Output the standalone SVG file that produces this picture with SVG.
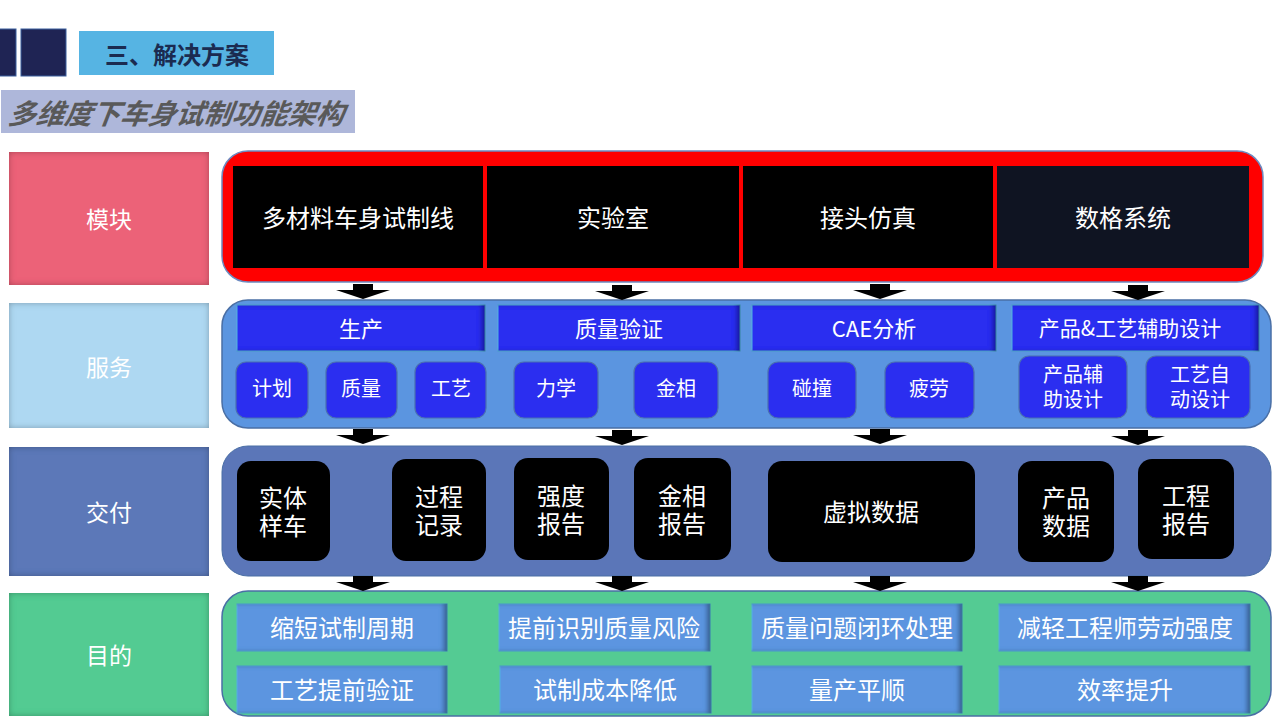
<svg xmlns="http://www.w3.org/2000/svg" width="1280" height="720" viewBox="0 0 1280 720">
<style>
text{font-family:"Noto Sans CJK SC","Microsoft YaHei",sans-serif;fill:#fff;text-anchor:middle;dominant-baseline:central}
.lbl{font-size:23px}
.mod{font-size:24px}
.hdr{font-size:22px}
.sub{font-size:20px}
.dlv{font-size:24px}
.pur{font-size:24px}
.modbox{fill:#000}
.hbox{fill:#2B2EF0;stroke:#56B4E3;stroke-width:1}
.sbox{fill:#2B2EF0;stroke:#4A6FB0;stroke-width:1.2}
.dbox{fill:#000}
.pbox{fill:#5B95E0;stroke:#56B4E3;stroke-width:1}
</style>
<defs>
<filter id="inner" x="-10%" y="-10%" width="120%" height="120%">
<feFlood flood-color="#000" flood-opacity="0.55" result="f"/>
<feComposite in="f" in2="SourceAlpha" operator="out" result="inv"/>
<feGaussianBlur in="inv" stdDeviation="3" result="blur"/>
<feComposite in="blur" in2="SourceAlpha" operator="in" result="sh"/>
<feMerge><feMergeNode in="SourceGraphic"/><feMergeNode in="sh"/></feMerge>
</filter>
<filter id="innerR" x="-10%" y="-10%" width="120%" height="120%">
<feFlood flood-color="#000" flood-opacity="0.6" result="f"/>
<feComposite in="f" in2="SourceAlpha" operator="out" result="inv"/>
<feGaussianBlur in="inv" stdDeviation="2" result="blur"/>
<feOffset in="blur" dx="-4" dy="0" result="off"/>
<feComposite in="off" in2="SourceAlpha" operator="in" result="sh"/>
<feMerge><feMergeNode in="SourceGraphic"/><feMergeNode in="sh"/></feMerge>
</filter>
<path id="arr" d="M-10,0 H10 V6 H27 L0,15 L-27,6 H-10 Z" fill="#000"/>
</defs>
<rect width="1280" height="720" fill="#fff"/>

<g id="header">
<rect x="-2" y="29" width="18" height="47" fill="#1F2454" stroke="#3A5F9E" stroke-width="1"/>
<rect x="21" y="29" width="45" height="47" fill="#1F2454" stroke="#3A5F9E" stroke-width="1"/>
<rect x="79" y="31" width="195" height="44" fill="#56B4E3"/>
<text x="177" y="53" style="font-size:24px;font-weight:bold;fill:#1B2B50">三、解决方案</text>
<rect x="1" y="90" width="354" height="43" fill="#AEB7DA"/>
<text x="177" y="112" style="font-size:28px;font-weight:bold;font-style:italic;fill:#595959" transform="skewX(-8) translate(15.6 0)">多维度下车身试制功能架构</text>
</g>

<g id="label-module"><rect x="9" y="152" width="200" height="133" fill="#EC6278" filter="url(#inner)"/><text class="lbl" x="109" y="218">模块</text></g>
<g id="label-service"><rect x="9" y="303" width="200" height="125" fill="#AED8F2" filter="url(#inner)"/><text class="lbl" x="109" y="366">服务</text></g>
<g id="label-deliver"><rect x="9" y="447" width="200" height="129" fill="#5B78B8" filter="url(#inner)"/><text class="lbl" x="109" y="511">交付</text></g>
<g id="label-purpose"><rect x="9" y="593" width="200" height="123" fill="#52CB92" filter="url(#inner)"/><text class="lbl" x="109" y="654">目的</text></g>

<g id="modules">
<rect x="222" y="151" width="1041" height="131" rx="26" fill="#FF0000" stroke="#6D8AC0" stroke-width="1.5"/>
<g id="m1"><rect class="modbox" x="233" y="166" width="250" height="102"/><text class="mod" x="358" y="216">多材料车身试制线</text></g>
<g id="m2"><rect class="modbox" x="487" y="166" width="252" height="102"/><text class="mod" x="613" y="216">实验室</text></g>
<g id="m3"><rect class="modbox" x="743" y="166" width="250" height="102"/><text class="mod" x="868" y="216">接头仿真</text></g>
<g id="m4"><rect x="997" y="166" width="252" height="102" fill="#0F1422"/><text class="mod" x="1123" y="216">数格系统</text></g>
</g>

<g id="services">
<rect x="222" y="300" width="1049" height="128" rx="26" fill="#5B95E0" stroke="#4A6FA5" stroke-width="1.5"/>
<g id="s-h1"><rect class="hbox" x="237" y="305" width="248" height="46" filter="url(#innerR)"/><text class="hdr" x="361" y="327">生产</text></g>
<g id="s-h2"><rect class="hbox" x="498" y="305" width="242" height="46" filter="url(#innerR)"/><text class="hdr" x="619" y="327">质量验证</text></g>
<g id="s-h3"><rect class="hbox" x="752" y="305" width="244" height="46" filter="url(#innerR)"/><text class="hdr" x="874" y="327">CAE分析</text></g>
<g id="s-h4"><rect class="hbox" x="1012" y="305" width="247" height="46" filter="url(#innerR)"/><text x="1130" y="327" style="font-size:21px">产品&amp;工艺辅助设计</text></g>
<g id="s1"><rect class="sbox" x="236" y="362" width="72" height="56" rx="10"/><text class="sub" x="272" y="387">计划</text></g>
<g id="s2"><rect class="sbox" x="326" y="362" width="71" height="56" rx="10"/><text class="sub" x="361" y="387">质量</text></g>
<g id="s3"><rect class="sbox" x="415" y="362" width="71" height="56" rx="10"/><text class="sub" x="451" y="387">工艺</text></g>
<g id="s4"><rect class="sbox" x="514" y="362" width="84" height="56" rx="10"/><text class="sub" x="556" y="387">力学</text></g>
<g id="s5"><rect class="sbox" x="634" y="362" width="84" height="56" rx="10"/><text class="sub" x="676" y="387">金相</text></g>
<g id="s6"><rect class="sbox" x="768" y="362" width="88" height="56" rx="10"/><text class="sub" x="812" y="387">碰撞</text></g>
<g id="s7"><rect class="sbox" x="885" y="362" width="89" height="56" rx="10"/><text class="sub" x="929" y="387">疲劳</text></g>
<g id="s8"><rect class="sbox" x="1019" y="356" width="108" height="62" rx="10"/><text class="sub" x="1073" y="373">产品辅<tspan x="1073" dy="25">助设计</tspan></text></g>
<g id="s9"><rect class="sbox" x="1146" y="356" width="104" height="62" rx="10"/><text class="sub" x="1200" y="373">工艺自<tspan x="1200" dy="25">动设计</tspan></text></g>
</g>

<g id="deliverables">
<rect x="222" y="446" width="1049" height="130" rx="26" fill="#5B76B8" stroke="#4A6FA5" stroke-width="1"/>
<g id="d1"><rect class="dbox" x="237" y="461" width="93" height="100" rx="14"/><text class="dlv" x="283" y="496">实体<tspan x="283" dy="28">样车</tspan></text></g>
<g id="d2"><rect class="dbox" x="392" y="459" width="94" height="102" rx="14"/><text class="dlv" x="439" y="495">过程<tspan x="439" dy="28">记录</tspan></text></g>
<g id="d3"><rect class="dbox" x="514" y="458" width="95" height="102" rx="14"/><text class="dlv" x="561" y="494">强度<tspan x="561" dy="28">报告</tspan></text></g>
<g id="d4"><rect class="dbox" x="634" y="458" width="97" height="102" rx="14"/><text class="dlv" x="682" y="494">金相<tspan x="682" dy="28">报告</tspan></text></g>
<g id="d5"><rect class="dbox" x="768" y="461" width="207" height="101" rx="14"/><text class="dlv" x="871" y="510">虚拟数据</text></g>
<g id="d6"><rect class="dbox" x="1018" y="461" width="96" height="101" rx="14"/><text class="dlv" x="1066" y="496">产品<tspan x="1066" dy="28">数据</tspan></text></g>
<g id="d7"><rect class="dbox" x="1138" y="459" width="96" height="100" rx="14"/><text class="dlv" x="1186" y="494">工程<tspan x="1186" dy="28">报告</tspan></text></g>
</g>

<g id="purposes">
<rect x="222" y="591" width="1049" height="125" rx="26" fill="#54CB93" stroke="#4A6FA5" stroke-width="1.5"/>
<g id="p1"><rect class="pbox" x="237" y="604" width="210" height="47" filter="url(#innerR)"/><text class="pur" x="342" y="626">缩短试制周期</text></g>
<g id="p2"><rect class="pbox" x="499" y="604" width="211" height="47" filter="url(#innerR)"/><text class="pur" x="604" y="626">提前识别质量风险</text></g>
<g id="p3"><rect class="pbox" x="752" y="604" width="210" height="47" filter="url(#innerR)"/><text class="pur" x="857" y="626">质量问题闭环处理</text></g>
<g id="p4"><rect class="pbox" x="999" y="604" width="251" height="47" filter="url(#innerR)"/><text class="pur" x="1125" y="626">减轻工程师劳动强度</text></g>
<g id="p5"><rect class="pbox" x="237" y="666" width="210" height="47" filter="url(#innerR)"/><text class="pur" x="342" y="688">工艺提前验证</text></g>
<g id="p6"><rect class="pbox" x="500" y="666" width="211" height="47" filter="url(#innerR)"/><text class="pur" x="605" y="688">试制成本降低</text></g>
<g id="p7"><rect class="pbox" x="752" y="666" width="210" height="47" filter="url(#innerR)"/><text class="pur" x="857" y="688">量产平顺</text></g>
<g id="p8"><rect class="pbox" x="999" y="666" width="251" height="47" filter="url(#innerR)"/><text class="pur" x="1125" y="688">效率提升</text></g>
</g>

<g id="connectors">
<use href="#arr" x="363" y="284"/><use href="#arr" x="622" y="285"/><use href="#arr" x="880" y="284"/><use href="#arr" x="1138" y="285"/>
<use href="#arr" x="363" y="429"/><use href="#arr" x="622" y="430"/><use href="#arr" x="880" y="429"/><use href="#arr" x="1138" y="430"/>
<use href="#arr" x="363" y="576"/><use href="#arr" x="622" y="576"/><use href="#arr" x="880" y="576"/><use href="#arr" x="1138" y="576"/>
</g>
</svg>
